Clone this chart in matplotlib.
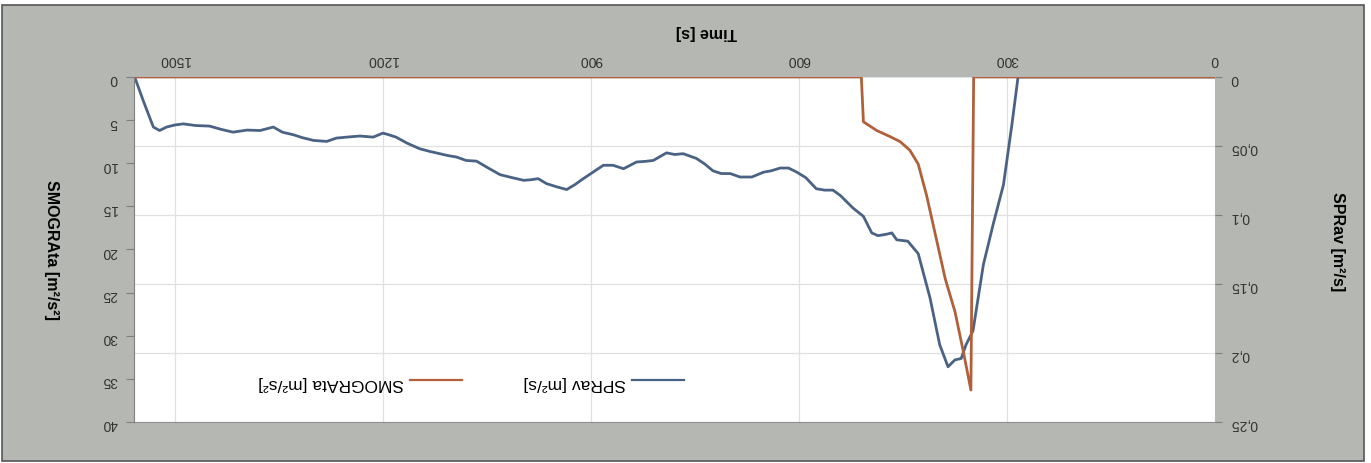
import matplotlib.pyplot as plt
from matplotlib.patches import Rectangle

spr_time = [0, 284, 293, 305, 320, 334, 349, 359, 366, 375, 385, 397, 411,
            428, 443, 459, 466, 474, 486, 495, 507, 522, 540, 551, 563, 575,
            590, 603, 615, 627, 640, 651, 668, 685, 699, 712, 724, 736, 748,
            767, 779, 791, 810, 822, 834, 853, 868, 882, 897, 911, 923, 935,
            950, 964, 976, 987, 997, 1015, 1031, 1048, 1065, 1080, 1094,
            1106, 1118, 1132, 1147, 1165, 1181, 1192, 1200, 1214, 1233,
            1250, 1267, 1281, 1300, 1316, 1329, 1345, 1358, 1377, 1396,
            1416, 1433, 1450, 1470, 1488, 1500, 1512, 1522, 1531, 1545, 1558]
spr_value = [0, 0, 0.035, 0.078, 0.107, 0.136, 0.184, 0.194, 0.204, 0.205,
             0.210, 0.194, 0.160, 0.128, 0.119, 0.118, 0.113, 0.114, 0.115,
             0.113, 0.101, 0.095, 0.086, 0.082, 0.082, 0.081, 0.073, 0.069,
             0.066, 0.066, 0.068, 0.069, 0.0725, 0.0725, 0.070, 0.070,
             0.068, 0.063, 0.059, 0.0556, 0.0562, 0.055, 0.0605, 0.0612,
             0.0616, 0.0665, 0.064, 0.064, 0.069, 0.0737, 0.078, 0.0816,
             0.0795, 0.0773, 0.0737, 0.0745, 0.0749, 0.0728, 0.0708, 0.066,
             0.061, 0.0605, 0.058, 0.057, 0.0556, 0.054, 0.052, 0.048,
             0.0436, 0.0418, 0.0407, 0.0436, 0.0428, 0.0435, 0.0443,
             0.0467, 0.046, 0.044, 0.0419, 0.040, 0.0363, 0.0388, 0.0385,
             0.040, 0.038, 0.0356, 0.0352, 0.034, 0.0348, 0.0363, 0.0388,
             0.0363, 0.018, 0]

smogra_time = [0, 348, 352, 363, 375, 389, 404, 416, 428, 440, 454, 469,
               488, 507, 510, 1559]
smogra_value = [0, 0, 36.3, 31.8, 27.2, 23.4, 18.0, 13.7, 10.1, 8.5, 7.5,
                6.9, 6.2, 5.2, 0, 0]

time_ticks = [0, 300, 600, 900, 1200, 1500]
spr_ticks = [0, 0.05, 0.1, 0.15, 0.2, 0.25]
spr_tick_labels = ['0', '0,05', '0,1', '0,15', '0,2', '0,25']
smogra_ticks = [0, 5, 10, 15, 20, 25, 30, 35, 40]

BLUE = '#4a6384'
ORANGE = '#b0603a'
PANEL = '#b5b7b3'

plt.rcParams['font.family'] = ['Liberation Sans', 'DejaVu Sans']


def main():
    fig = plt.figure(figsize=(13.71, 4.64), dpi=100, facecolor='white')
    fig.patches.append(Rectangle((0.0015, 0.004), 0.9934, 0.983,
                                 transform=fig.transFigure, facecolor=PANEL,
                                 edgecolor='#555555', linewidth=1.2,
                                 zorder=-10))

    # Whole chart is printed rotated by 180 degrees.
    ax = fig.add_axes([0.0977, 0.0884, 0.7885, 0.7436])
    ax.set_facecolor('white')
    ax2 = ax.twinx()

    ax.plot(spr_time, spr_value, color=BLUE, linewidth=2,
            label='SPRav [m²/s]')
    ax2.plot(smogra_time, smogra_value, color=ORANGE, linewidth=2,
             label='SMOGRAta [m²/s²]')

    ax.set_xlim(1559, 0)
    ax.set_ylim(0.25, 0)
    ax2.set_ylim(40, 0)

    ax.set_xticks(time_ticks)
    ax.set_yticks(spr_ticks)
    ax.set_yticklabels(spr_tick_labels)
    ax2.set_yticks(smogra_ticks)

    ax.xaxis.tick_top()
    ax.xaxis.set_label_position('top')
    ax.yaxis.tick_right()
    ax.yaxis.set_label_position('right')
    ax2.yaxis.tick_left()
    ax2.yaxis.set_label_position('left')

    ax.grid(True, color='#e0e0e0', linewidth=0.9)
    ax.set_axisbelow(True)

    for a in (ax, ax2):
        for spine in a.spines.values():
            spine.set_visible(False)
    ax2.spines['left'].set_visible(True)
    ax2.spines['left'].set_color('#808080')
    ax.spines['bottom'].set_visible(True)
    ax.spines['bottom'].set_color('#909090')

    ax.tick_params(axis='x', length=0, pad=8, labelsize=10,
                   labelcolor='#333333', labelrotation=180)
    ax.tick_params(axis='y', length=5, color='#808080', pad=6, labelsize=10,
                   labelcolor='#333333', labelrotation=180)
    ax2.tick_params(axis='y', length=6, color='#808080', pad=6, labelsize=10,
                    labelcolor='#333333', labelrotation=180)

    ax.set_xlabel('Time [s]', rotation=180, fontsize=11.5,
                  fontweight='bold', va='center', ha='center')
    ax.xaxis.set_label_coords(0.53, 1.133)
    ax.set_ylabel('SPRav [m²/s]', rotation=270, fontsize=11.5,
                  fontweight='bold', va='center', ha='center')
    ax.yaxis.set_label_coords(1.113, 0.525)
    ax2.set_ylabel('SMOGRAta [m²/s²]', rotation=270, fontsize=11.5,
                   fontweight='bold', va='center', ha='center')
    ax2.yaxis.set_label_coords(-0.076, 0.5)

    handles = ax2.get_lines() + ax.get_lines()
    leg = ax2.legend(handles, [h.get_label() for h in handles], ncol=2,
                     loc='center', bbox_to_anchor=(0.312, 0.116),
                     frameon=False, markerfirst=False, fontsize=12.5,
                     handlelength=3.0, handletextpad=0.35,
                     columnspacing=3.5)
    for text in leg.get_texts():
        text.set_rotation(180)
    for line in leg.get_lines():
        line.set_linewidth(1.6)

    fig.savefig('out.png', dpi=100, facecolor=fig.get_facecolor())
    plt.close(fig)


if __name__ == '__main__':
    main()
